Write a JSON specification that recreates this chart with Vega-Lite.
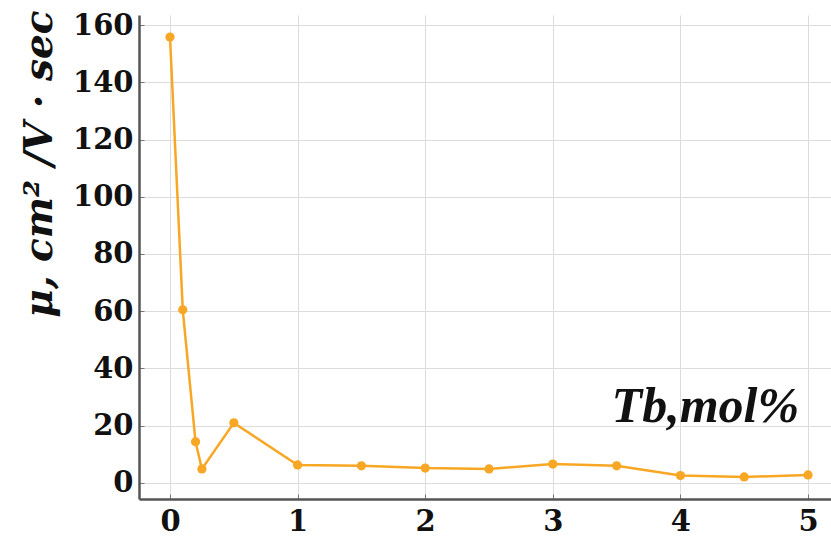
{
  "$schema": "https://vega.github.io/schema/vega-lite/v6.json",
  "width": 692,
  "height": 484,
  "autosize": {"type": "none"},
  "padding": {"left": 139, "top": 15, "right": 0, "bottom": 43},
  "background": "white",
  "config": {"view": {"stroke": null}},
  "datasets": {
    "pts": [
      {"tb": 0, "mu": 155.8},
      {"tb": 0.1, "mu": 60.5},
      {"tb": 0.2, "mu": 14.4},
      {"tb": 0.25, "mu": 4.9},
      {"tb": 0.5, "mu": 21},
      {"tb": 1, "mu": 6.3},
      {"tb": 1.5, "mu": 6},
      {"tb": 2, "mu": 5.2},
      {"tb": 2.5, "mu": 4.9},
      {"tb": 3, "mu": 6.6},
      {"tb": 3.5, "mu": 6},
      {"tb": 4, "mu": 2.6},
      {"tb": 4.5, "mu": 2.1},
      {"tb": 5, "mu": 2.8}
    ],
    "lbl": [{"tb": 4.93, "mu": 21.2, "t": "Tb,mol%"}]
  },
  "layer": [
    {
      "data": {"name": "pts"},
      "mark": {"type": "line", "color": "#F7A724", "strokeWidth": 2.5},
      "encoding": {
        "x": {
          "field": "tb", "type": "quantitative",
          "scale": {"domain": [-0.243, 5.18], "nice": false, "zero": false},
          "axis": {
            "values": [0, 1, 2, 3, 4, 5], "format": "d", "title": null,
            "labelFont": "DejaVu Serif", "labelFontWeight": "bold", "labelFontSize": 29, "labelColor": "#111",
            "domainColor": "#555", "domainWidth": 2.5, "tickColor": "#777", "tickSize": -5,
            "labelPadding": 13,
            "gridColor": "#dcdcdc", "gridWidth": 1
          }
        },
        "y": {
          "field": "mu", "type": "quantitative",
          "scale": {"domain": [-5.6, 163.5], "nice": false, "zero": false},
          "axis": {
            "values": [0, 20, 40, 60, 80, 100, 120, 140, 160],
            "title": "μ, cm² /V · sec",
            "titleFont": "DejaVu Serif", "titleFontWeight": "bold", "titleFontStyle": "italic", "titleFontSize": 39, "titleColor": "#111",
            "titleX": -88, "titleY": -5, "titleAlign": "right", "titleBaseline": "alphabetic", "titleAngle": -90,
            "labelFont": "DejaVu Serif", "labelFontWeight": "bold", "labelFontSize": 29, "labelColor": "#111",
            "domainColor": "#555", "domainWidth": 2.5, "tickColor": "#777", "tickSize": -5,
            "labelPadding": 11,
            "gridColor": "#dcdcdc", "gridWidth": 1
          }
        }
      }
    },
    {
      "data": {"name": "pts"},
      "mark": {"type": "point", "filled": true, "color": "#F7A724", "opacity": 1, "size": 85},
      "encoding": {
        "x": {"field": "tb", "type": "quantitative"},
        "y": {"field": "mu", "type": "quantitative"}
      }
    },
    {
      "data": {"name": "lbl"},
      "mark": {"type": "text", "font": "Liberation Serif", "fontWeight": "bold", "fontStyle": "italic", "fontSize": 50, "align": "right", "baseline": "alphabetic", "color": "#111"},
      "encoding": {
        "x": {"field": "tb", "type": "quantitative"},
        "y": {"field": "mu", "type": "quantitative"},
        "text": {"field": "t"}
      }
    }
  ]
}
